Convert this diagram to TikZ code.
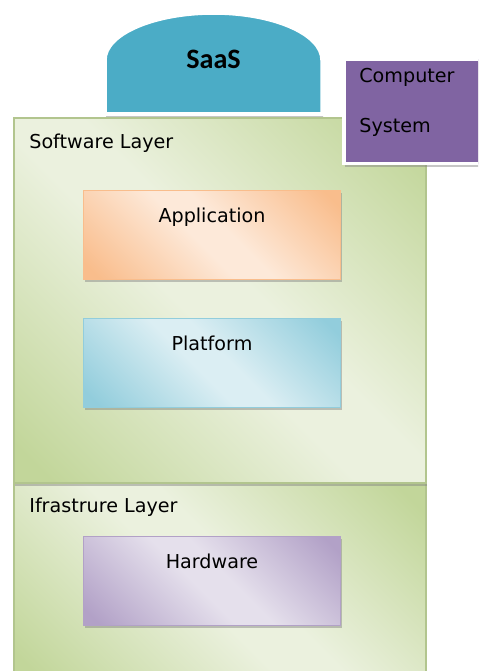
\documentclass[tikz,border=0pt]{standalone}
\usepackage{fontspec}
\setmainfont{DejaVu Sans}
\newfontfamily\capfont{Carlito}
\usepackage{tikz}
\usetikzlibrary{positioning,shadows}

% light / dark pairs of the fills
\definecolor{olivelt}{HTML}{EBF1DE}
\definecolor{olivedk}{HTML}{C2D69A}
\definecolor{peachlt}{HTML}{FDE9D9}
\definecolor{peachdk}{HTML}{F9BD8C}
\definecolor{aqualt}{HTML}{DBEEF3}
\definecolor{aquadk}{HTML}{92CDDC}
\definecolor{lilaclt}{HTML}{E5E0EC}
\definecolor{lilacdk}{HTML}{B2A1C7}
\definecolor{saasblue}{HTML}{4BACC6}
\definecolor{syspurple}{HTML}{8064A2}

\newcommand\pxu{0.02cm}
% diagonal band: dark in two corners, light across the middle
\newcommand\bandshade[3]{%
  \pgfdeclarehorizontalshading{#1}{100bp}{color(0bp)=(#3); color(18bp)=(#3);
    color(46bp)=(#2); color(54bp)=(#2); color(82bp)=(#3); color(100bp)=(#3)}}
\bandshade{oliveband}{olivelt}{olivedk}
\bandshade{peachband}{peachlt}{peachdk}
\bandshade{aquaband}{aqualt}{aquadk}
\bandshade{lilacband}{lilaclt}{lilacdk}

\begin{document}
\begin{tikzpicture}[x=\pxu, y=-\pxu,
	font=\fontsize{10.9}{13}\selectfont,
	softshadow/.style={drop shadow={shadow xshift=.6pt, shadow yshift=-1.6pt, opacity=.45}},
	layer/.style={anchor=north west, inner sep=0pt, minimum width=8.24cm,
		draw=olivedk!92!black, line width=.9pt, shading=oliveband, shading angle=45},
	tier/.style={anchor=north west, inner sep=0pt, minimum width=5.14cm, minimum height=1.78cm,
		text height=0.64cm, text depth=1.14cm, shading angle=45, line width=.6pt, softshadow},
	tag/.style={anchor=base west, inner sep=0pt},
	]
	\useasboundingbox (0,0) rectangle (478,671);
	\clip (0,0) rectangle (478,671);

	% the two layers
	\node[layer, minimum height=4cm] (infra) at (13,482) {};
	\node[layer, minimum height=7.3cm, softshadow] (soft) at (13,117) {};
	\node[tag] (softname) at (29,149) {Software Layer};
	\node[tag] (infraname) at (29,512) {Ifrastrure Layer};

	% boxes inside them
	\node[tier, shading=peachband, draw=peachdk] (app) at (83,190) {Application};
	\node[tier, shading=aquaband, draw=aquadk, below=0.76cm of app] (plat) {Platform};
	\node[tier, shading=lilacband, draw=lilacdk] (hw) at (83,536) {Hardware};

	% dome on top
	\fill[saasblue, draw=white, line width=2pt, softshadow]
		(105,114) -- (105,60) .. controls (105,34) and (154,13) .. (213.5,13)
		.. controls (273,13) and (322,34) .. (322,60) -- (322,114) -- cycle;
	\node[anchor=base, font=\capfont\bfseries\fontsize{16}{18}\selectfont] (saas) at (213.5,69) {SaaS};

	\node[anchor=north west, inner sep=0pt, minimum width=3.4cm, minimum height=2.1cm,
		fill=syspurple, draw=white, line width=2pt, softshadow] (csys) at (342,57) {};
	\node[tag] (csysa) at (359,83) {Computer};
	\node[tag] (csysb) at (359,133) {System};
\end{tikzpicture}
\end{document}
